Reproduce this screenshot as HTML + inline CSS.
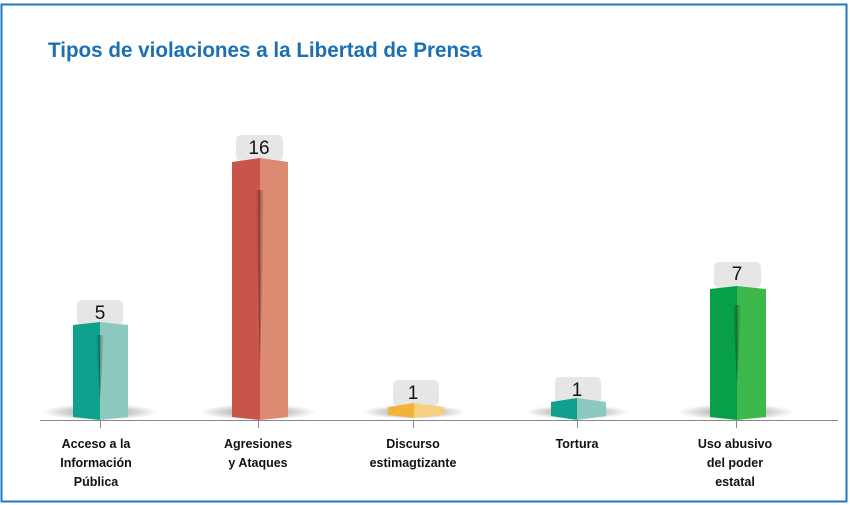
<!DOCTYPE html>
<html><head><meta charset="utf-8"><style>
html,body{margin:0;padding:0;background:#fff;}
svg{display:block;}
</style></head><body>
<svg width="850" height="505" viewBox="0 0 850 505" xmlns="http://www.w3.org/2000/svg" font-family="Liberation Sans, sans-serif">
<defs>
<radialGradient id="sh" cx="0.5" cy="0.5" r="0.5">
<stop offset="0" stop-color="#000" stop-opacity="0.45"/>
<stop offset="1" stop-color="#000" stop-opacity="0"/>
</radialGradient>
<linearGradient id="crease" x1="0" x2="1" y1="0" y2="0">
<stop offset="0" stop-color="#000" stop-opacity="0"/>
<stop offset="0.5" stop-color="#000" stop-opacity="0.3"/>
<stop offset="1" stop-color="#000" stop-opacity="0"/>
</linearGradient>
</defs>
<rect x="1.5" y="4.5" width="845" height="497" fill="#fff" stroke="#1f78c1" stroke-width="2"/>
<text x="48" y="57" font-size="21" font-weight="bold" fill="#1a6fb5" textLength="434" lengthAdjust="spacingAndGlyphs">Tipos de violaciones a la Libertad de Prensa</text>

<ellipse cx="100" cy="412" rx="58" ry="8" fill="url(#sh)"/>
<ellipse cx="258" cy="412" rx="58" ry="8" fill="url(#sh)"/>
<ellipse cx="414" cy="412" rx="52" ry="7" fill="url(#sh)"/>
<ellipse cx="577" cy="412" rx="52" ry="7" fill="url(#sh)"/>
<ellipse cx="736" cy="412" rx="58" ry="8" fill="url(#sh)"/>

<rect x="77" y="300" width="46" height="25" rx="5" fill="#e6e6e6"/>
<rect x="236" y="135" width="47" height="26" rx="5" fill="#e6e6e6"/>
<rect x="393" y="380" width="46" height="26" rx="5" fill="#e6e6e6"/>
<rect x="555" y="377" width="46" height="26" rx="5" fill="#e6e6e6"/>
<rect x="714" y="262" width="47" height="26" rx="5" fill="#e6e6e6"/>

<polygon points="73,325 100,322 100,420 73,417" fill="#0fa08e"/>
<polygon points="100,322 128,325 128,417 100,420" fill="#8ec9c0"/>
<polygon points="96,335 100,400 104,335" fill="url(#crease)"/>

<polygon points="232,162 260,158 260,420 232,417" fill="#c8544a"/>
<polygon points="260,158 288,162 288,417 260,420" fill="#dd8a72"/>
<polygon points="256,190 260,370 264,190" fill="url(#crease)"/>

<polygon points="388,407 414,403 414,418 388,415" fill="#f0b43a"/>
<polygon points="414,403 444,407 444,415 414,418" fill="#f7cf82"/>

<polygon points="551,402 577,398 577,420 551,416" fill="#0fa08e"/>
<polygon points="577,398 606,402 606,416 577,420" fill="#8ec9c0"/>

<polygon points="710,289 737,286 737,420 710,417" fill="#07a046"/>
<polygon points="737,286 766,289 766,417 737,420" fill="#3cb84c"/>
<polygon points="733,305 737,385 741,305" fill="url(#crease)"/>

<g font-size="19" fill="#111" text-anchor="middle">
<text x="100" y="319">5</text>
<text x="259" y="154">16</text>
<text x="413" y="399">1</text>
<text x="577" y="396">1</text>
<text x="737" y="280">7</text>
</g>

<line x1="40" y1="420.5" x2="838" y2="420.5" stroke="#888" stroke-width="1"/>
<g stroke="#888" stroke-width="1">
<line x1="100.5" y1="420" x2="100.5" y2="428"/>
<line x1="258.5" y1="420" x2="258.5" y2="428"/>
<line x1="413.5" y1="420" x2="413.5" y2="428"/>
<line x1="577.5" y1="420" x2="577.5" y2="428"/>
<line x1="736.5" y1="420" x2="736.5" y2="428"/>
</g>

<g font-size="12.5" font-weight="bold" fill="#111" text-anchor="middle">
<text x="96" y="448">Acceso a la</text>
<text x="96" y="467">Información</text>
<text x="96" y="486">Pública</text>
<text x="258" y="448">Agresiones</text>
<text x="258" y="467">y Ataques</text>
<text x="413" y="448">Discurso</text>
<text x="413" y="467">estimagtizante</text>
<text x="577" y="448">Tortura</text>
<text x="735" y="448">Uso abusivo</text>
<text x="735" y="467">del poder</text>
<text x="735" y="486">estatal</text>
</g>
</svg>
</body></html>
